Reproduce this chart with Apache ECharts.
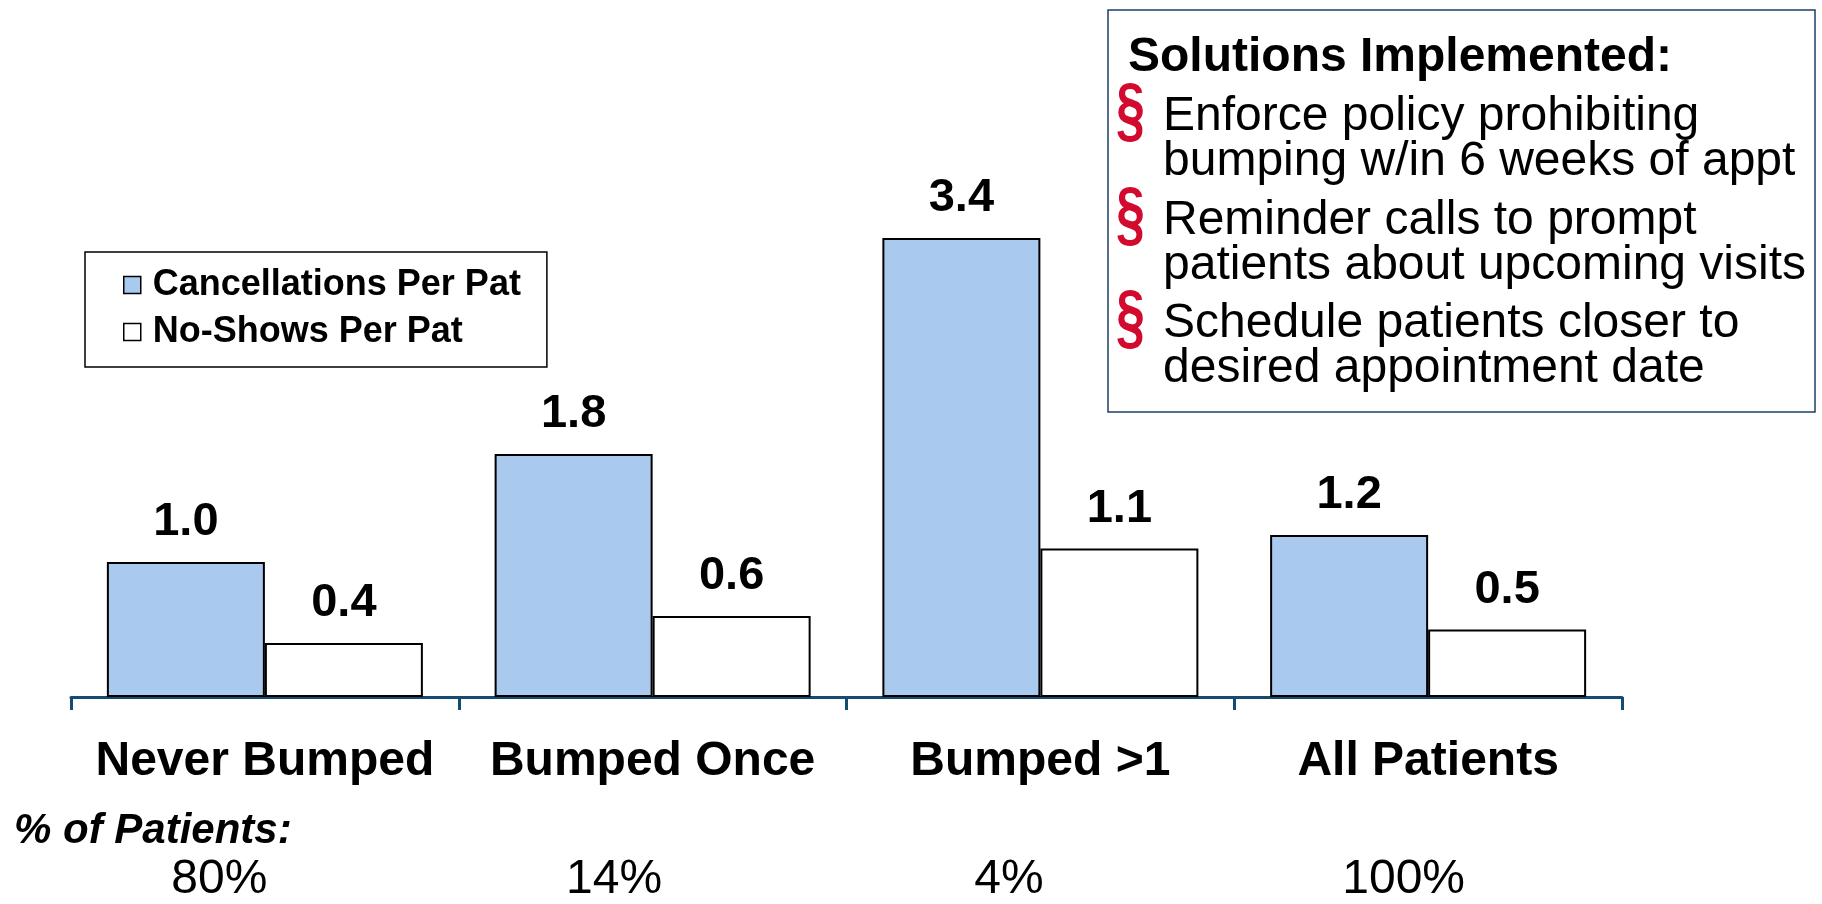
<!DOCTYPE html>
<html>
<head>
<meta charset="utf-8">
<title>Cancellations and No-Shows per Patient</title>
<script src="https://cdn.jsdelivr.net/npm/echarts@6/dist/echarts.min.js"></script>
<style>
  html, body { margin: 0; padding: 0; background: #ffffff; }
  #chart { width: 1822px; height: 904px; }
</style>
</head>
<body>
<div id="chart"></div>
<script>
// Patient groups along the x axis
const categories = ['Never Bumped', 'Bumped Once', 'Bumped >1', 'All Patients'];
// Share of patients in each group
const patientShare = ['80%', '14%', '4%', '100%'];
// Series values per patient
const cancellations = [1.0, 1.8, 3.4, 1.2];
const noShows = [0.4, 0.6, 1.1, 0.5];
const seriesNames = ['Cancellations Per Pat', 'No-Shows Per Pat'];
// Side panel text
const solutionsTitle = 'Solutions Implemented:';
const solutions = [
  ['Enforce policy prohibiting', 'bumping w/in 6 weeks of appt'],
  ['Reminder calls to prompt', 'patients about upcoming visits'],
  ['Schedule patients closer to', 'desired appointment date']
];
const shareTitle = '% of Patients:';

const FONT = "'Liberation Sans', Arial, Helvetica, sans-serif";
const AXIS_BLUE = '#134B72';
const BAR_BLUE = '#A9CAEE';

const chart = echarts.init(document.getElementById('chart'), null, { renderer: 'canvas' });

// Side panel: bordered box, bold heading and red section-sign bullets
const panel = [];
panel.push({
  type: 'rect',
  shape: { x: 1108, y: 10, width: 707, height: 402 },
  style: { fill: '#ffffff', stroke: '#1F3F6A', lineWidth: 1.5 },
  z: 10
});
panel.push({
  type: 'text',
  x: 1128, y: 58,
  style: { text: solutionsTitle, font: 'bold 48px ' + FONT, fill: '#000', verticalAlign: 'middle' },
  z: 11
});
const firstLineY = [117, 221, 324];
solutions.forEach((lines, i) => {
  panel.push({
    type: 'text',
    x: 1116, y: firstLineY[i] - 3,
    scaleY: 1.4,
    style: { text: '\u00A7', font: 'bold 52px ' + FONT, fill: '#D20A2E', verticalAlign: 'middle' },
    z: 11
  });
  lines.forEach((line, j) => {
    panel.push({
      type: 'text',
      x: 1163, y: firstLineY[i] + j * 45,
      style: { text: line, font: '48px ' + FONT, fill: '#000', verticalAlign: 'middle' },
      z: 11
    });
  });
});
panel.push({
  type: 'text',
  x: 14, y: 831,
  style: { text: shareTitle, font: 'italic bold 42px ' + FONT, fill: '#000', verticalAlign: 'middle' },
  z: 11
});

const valueLabel = {
  show: true,
  position: 'top',
  distance: 16,
  formatter: p => p.value.toFixed(1),
  fontFamily: FONT,
  fontWeight: 'bold',
  fontSize: 47,
  lineHeight: 47,
  color: '#000'
};

chart.setOption({
  animation: false,
  backgroundColor: '#ffffff',
  textStyle: { fontFamily: FONT },
  grid: [
    { left: 71, right: 200, top: 157, bottom: 207 },
    { left: 22, right: 221, top: 157, bottom: 207 }
  ],
  legend: {
    data: seriesNames,
    orient: 'vertical',
    icon: 'rect',
    left: 85,
    top: 252,
    padding: [15, 26, 17, 38],
    itemGap: 11,
    itemWidth: 17,
    itemHeight: 17,
    borderColor: '#000',
    borderWidth: 1.5,
    backgroundColor: '#fff',
    itemStyle: { borderWidth: 1.5, borderColor: '#000' },
    textStyle: {
      fontFamily: FONT,
      fontWeight: 'bold',
      fontSize: 36,
      lineHeight: 36,
      color: '#000',
      padding: [0, 0, 0, 7]
    },
    selectedMode: false
  },
  xAxis: [
    {
      type: 'category',
      gridIndex: 0,
      data: categories,
      axisLine: { show: true, lineStyle: { color: AXIS_BLUE, width: 3 } },
      axisTick: { show: true, length: 13, lineStyle: { color: AXIS_BLUE, width: 3 } },
      axisLabel: {
        margin: 41,
        fontFamily: FONT,
        fontWeight: 'bold',
        fontSize: 48,
        lineHeight: 48,
        color: '#000',
        interval: 0
      },
      splitLine: { show: false }
    },
    {
      type: 'category',
      gridIndex: 1,
      data: patientShare,
      axisLine: { show: false },
      axisTick: { show: false },
      axisLabel: {
        margin: 175,
        fontFamily: FONT,
        fontSize: 48,
        lineHeight: 48,
        color: '#000',
        interval: 0
      },
      splitLine: { show: false }
    }
  ],
  yAxis: [
    { type: 'value', gridIndex: 0, min: 0, max: 4, show: false },
    { type: 'value', gridIndex: 1, min: 0, max: 4, show: false }
  ],
  series: [
    {
      name: seriesNames[0],
      type: 'bar',
      xAxisIndex: 0,
      yAxisIndex: 0,
      data: cancellations,
      barWidth: 158,
      barGap: '0%',
      itemStyle: { color: BAR_BLUE, borderColor: '#000', borderWidth: 2 },
      label: valueLabel,
      z: 3
    },
    {
      name: seriesNames[1],
      type: 'bar',
      xAxisIndex: 0,
      yAxisIndex: 0,
      data: noShows,
      barWidth: 158,
      barGap: '0%',
      itemStyle: { color: '#ffffff', borderColor: '#000', borderWidth: 2 },
      label: valueLabel,
      z: 2
    }
  ],
  graphic: panel
});
</script>
</body>
</html>
